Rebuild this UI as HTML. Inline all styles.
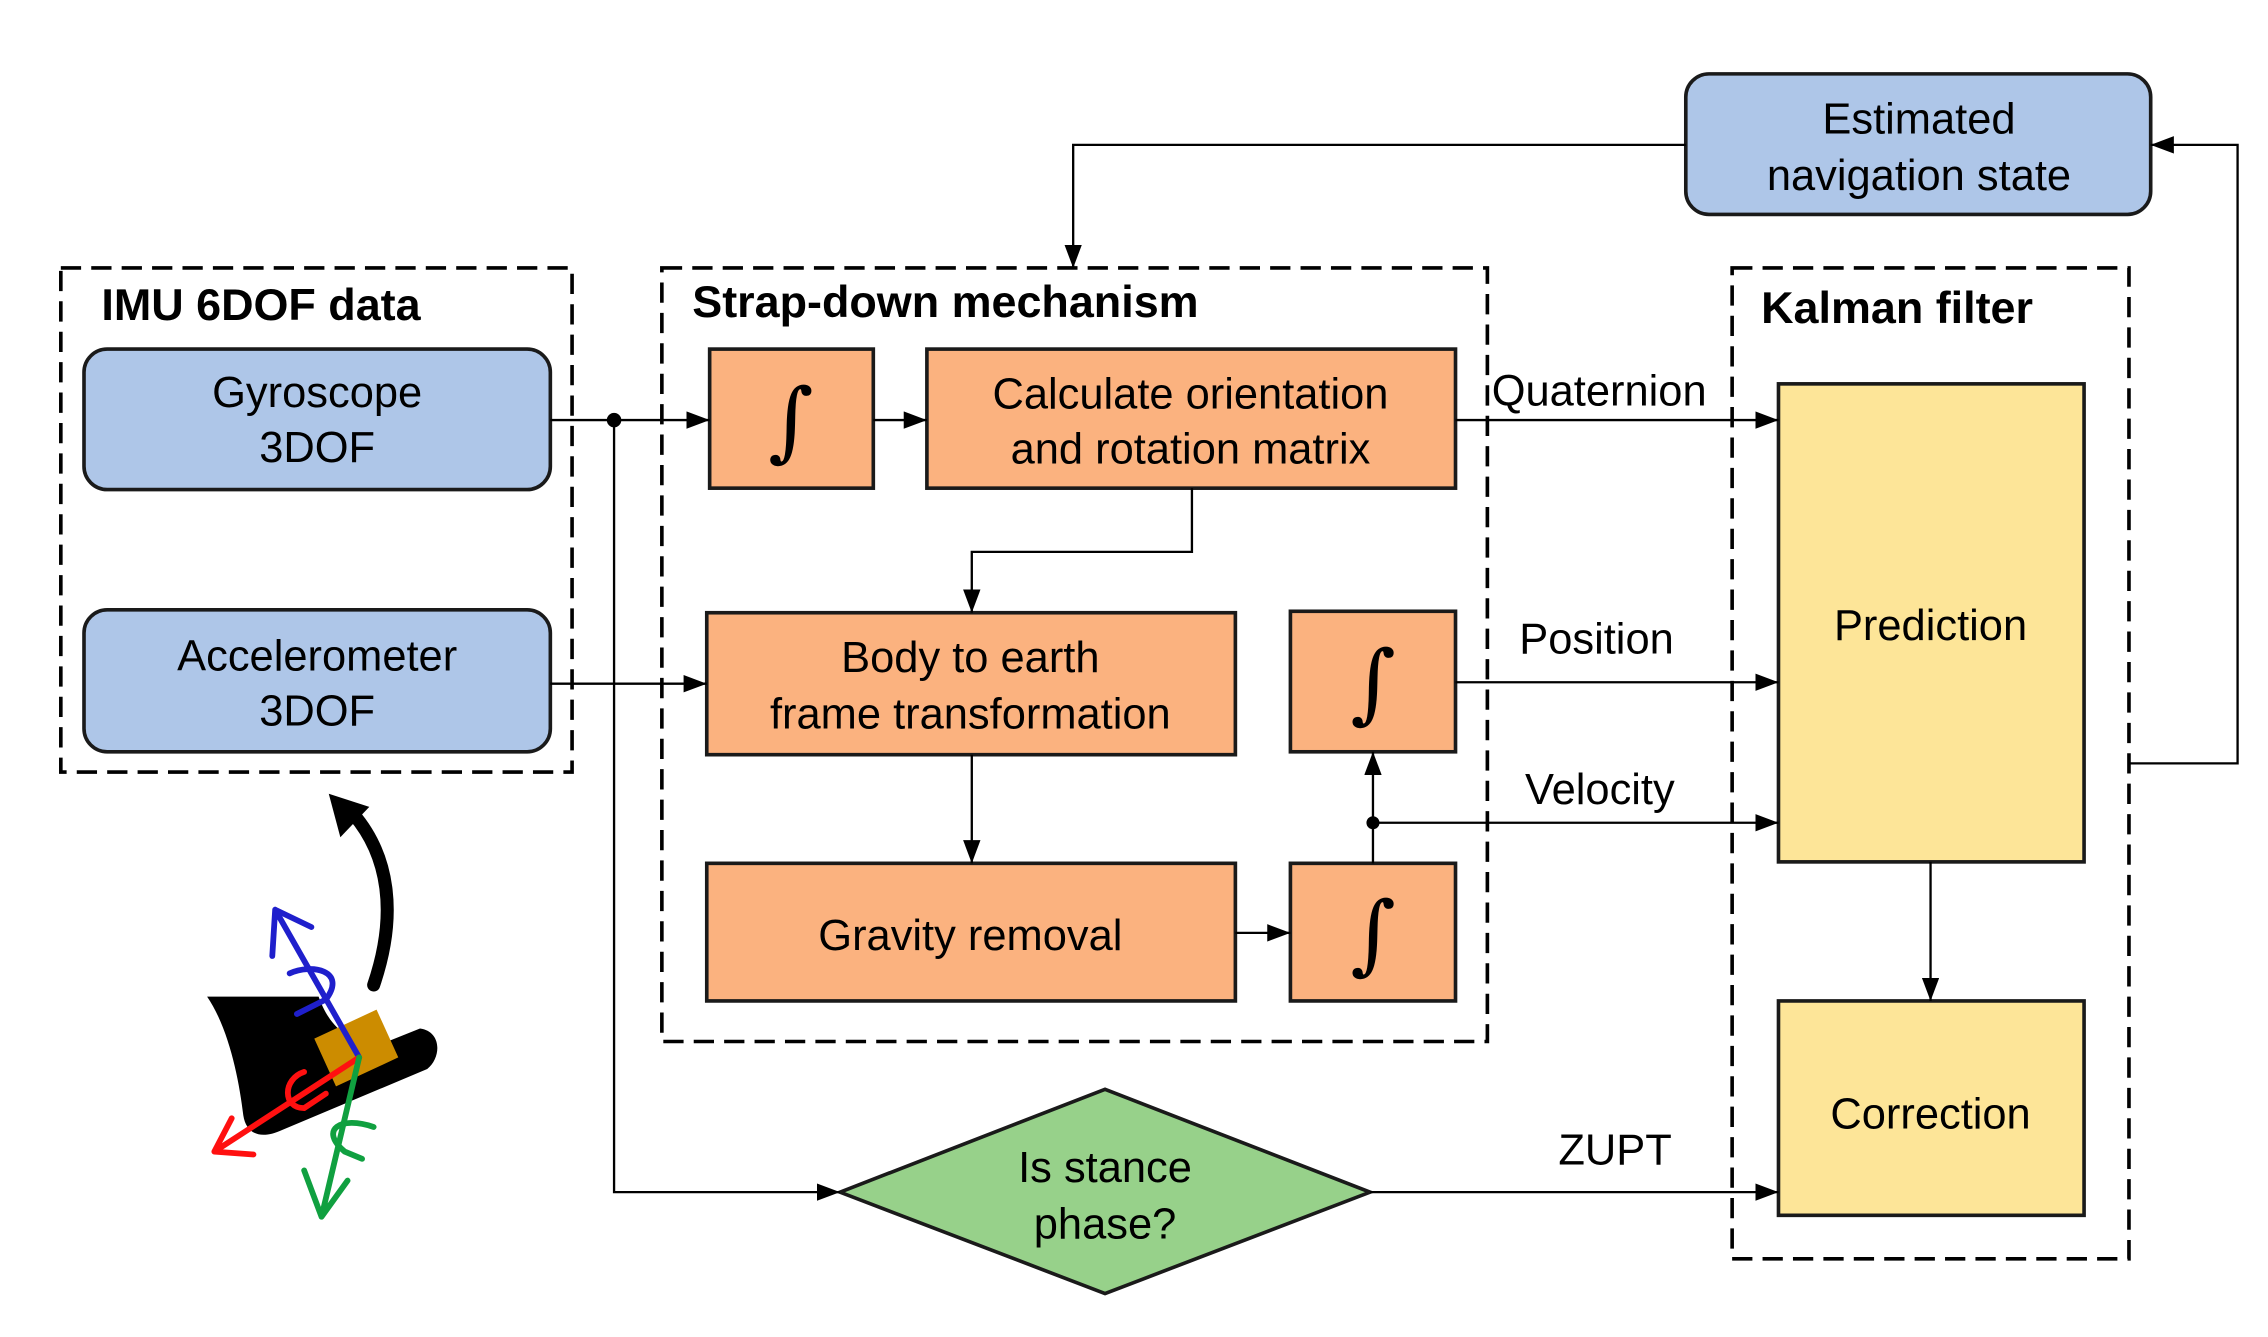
<!DOCTYPE html>
<html><head><meta charset="utf-8"><style>
html,body{margin:0;padding:0;background:#fff;}
svg{display:block;}
text{font-family:"Liberation Sans",Arial,sans-serif;fill:#000;}
</style></head><body>
<svg width="2268" height="1337" viewBox="0 0 1566 923" preserveAspectRatio="none" xmlns="http://www.w3.org/2000/svg">
<defs>
<marker id="ar" viewBox="0 0 16 12" refX="16" refY="6" markerWidth="16" markerHeight="12" markerUnits="userSpaceOnUse" orient="auto"><path d="M0,0 L16,6 L0,12 z" fill="#000"/></marker>
</defs>
<rect width="1566" height="923" fill="#fff"/>
<g fill="none" stroke="#000" stroke-width="2.5" stroke-dasharray="14,7">
<rect x="42" y="185" width="353" height="348"/>
<rect x="457" y="185" width="570" height="534"/>
<rect x="1196" y="185" width="274" height="684"/>
</g>
<g font-weight="bold" font-size="31">
<text x="70" y="221">IMU 6DOF data</text>
<text x="478" y="219">Strap-down mechanism</text>
<text x="1216" y="223">Kalman filter</text>
</g>
<g fill="#aec6e8" stroke="#1a1a1a" stroke-width="2.5">
<rect x="58" y="241" width="322" height="97" rx="16"/>
<rect x="58" y="421" width="322" height="98" rx="16"/>
<rect x="1164" y="51" width="321" height="97" rx="16"/>
</g>
<g fill="#fbb27f" stroke="#1a1a1a" stroke-width="2.5">
<rect x="490" y="241" width="113" height="96"/>
<rect x="640" y="241" width="365" height="96"/>
<rect x="488" y="423" width="365" height="98"/>
<rect x="891" y="422" width="114" height="97"/>
<rect x="488" y="596" width="365" height="95"/>
<rect x="891" y="596" width="114" height="95"/>
</g>
<g fill="#fde598" stroke="#1a1a1a" stroke-width="2.5">
<rect x="1228" y="265" width="211" height="330"/>
<rect x="1228" y="691" width="211" height="148"/>
</g>
<polygon points="580,823 763,752 946,823 763,893" fill="#97d18a" stroke="#1a1a1a" stroke-width="2.5"/>
<g font-size="30" text-anchor="middle">
<text x="219" y="281">Gyroscope</text><text x="219" y="319">3DOF</text>
<text x="219" y="463">Accelerometer</text><text x="219" y="501">3DOF</text>
<text x="1325" y="92">Estimated</text><text x="1325" y="131">navigation state</text>
<text x="822" y="282">Calculate orientation</text><text x="822" y="320">and rotation matrix</text>
<text x="670" y="464">Body to earth</text><text x="670" y="503">frame transformation</text>
<text x="670" y="656">Gravity removal</text>
<text x="1333" y="442">Prediction</text>
<text x="1333" y="779">Correction</text>
<text x="763" y="816">Is stance</text><text x="763" y="855">phase?</text>
</g>
<g font-size="60" text-anchor="middle">
<text x="546" y="311" style="font-family:'DejaVu Serif',serif">∫</text>
<text x="948" y="492" style="font-family:'DejaVu Serif',serif">∫</text>
<text x="948" y="665" style="font-family:'DejaVu Serif',serif">∫</text>
</g>
<g font-size="30">
<text x="1030" y="280">Quaternion</text>
<text x="1049" y="451">Position</text>
<text x="1053" y="555">Velocity</text>
<text x="1076" y="804">ZUPT</text>
</g>
<g fill="none" stroke="#000" stroke-width="1.6">
<path d="M380,290 H490" marker-end="url(#ar)"/>
<path d="M424,290 V823 H580" marker-end="url(#ar)"/>
<path d="M380,472 H488" marker-end="url(#ar)"/>
<path d="M603,290 H640" marker-end="url(#ar)"/>
<path d="M823,337 V381 H671 V423" marker-end="url(#ar)"/>
<path d="M671,521 V596" marker-end="url(#ar)"/>
<path d="M853,644 H891" marker-end="url(#ar)"/>
<path d="M948,596 V519" marker-end="url(#ar)"/>
<path d="M948,568 H1228" marker-end="url(#ar)"/>
<path d="M1005,290 H1228" marker-end="url(#ar)"/>
<path d="M1005,471 H1228" marker-end="url(#ar)"/>
<path d="M1333,595 V691" marker-end="url(#ar)"/>
<path d="M946,823 H1228" marker-end="url(#ar)"/>
<path d="M1470,527 H1545 V100 H1485" marker-end="url(#ar)"/>
<path d="M1164,100 H741 V185" marker-end="url(#ar)"/>
</g>
<circle cx="424" cy="290" r="5" fill="#000"/>
<circle cx="948" cy="568" r="4.5" fill="#000"/>
<g>
<path d="M258,680 C275,630 268,590 244,562" fill="none" stroke="#000" stroke-width="9" stroke-linecap="round"/>
<polygon points="227,548 255,557 235,578" fill="#000"/>
<path d="M143,688 L220,688 C228,710 240,718 260,722 L290,710 C305,712 305,730 295,738 L195,780 C180,787 170,783 168,770 C165,745 158,710 143,688 z" fill="#000"/>
<polygon points="217,717 260,697 275,730 232,750" fill="#cc8c00"/>
<g fill="none" stroke-width="4" stroke-linecap="round">
<path d="M248,730 L190,628 M190,628 L188,660 M190,628 L215,640" stroke="#1f1fcc"/>
<path d="M200,672 C215,665 240,670 225,690 L205,700" stroke="#1f1fcc"/>
<path d="M248,730 L148,795 M148,795 L175,797 M148,795 L160,772" stroke="#ff1010"/>
<path d="M210,740 C195,745 195,765 210,765 L225,755" stroke="#ff1010"/>
<path d="M248,730 L222,840 M222,840 L210,808 M222,840 L240,815" stroke="#10a040"/>
<path d="M258,778 C235,770 220,780 238,795 L250,800" stroke="#10a040"/>
</g>
</g>
</svg>
</body></html>
